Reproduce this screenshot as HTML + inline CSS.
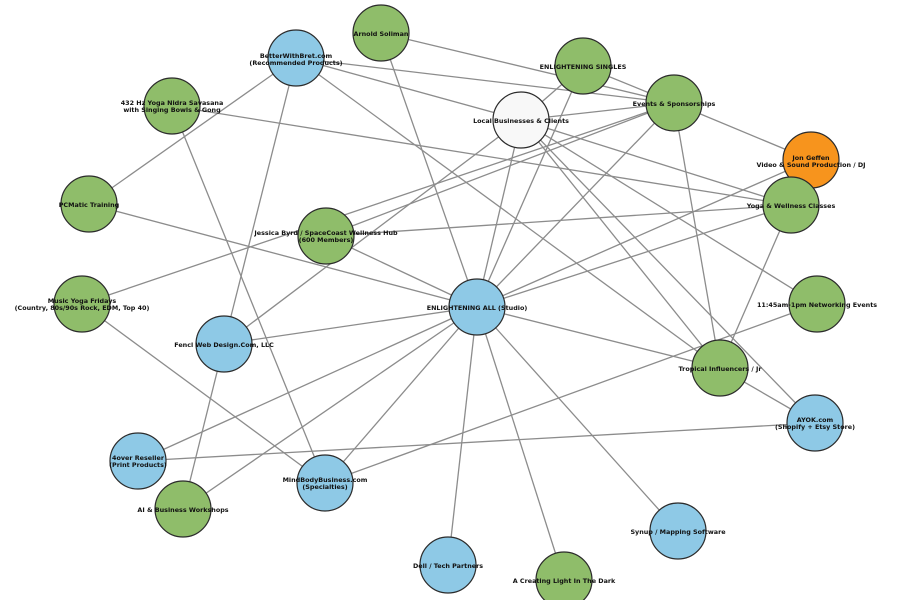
<!DOCTYPE html>
<html><head><meta charset="utf-8"><style>body{margin:0;background:#fff}svg{display:block}text{font-family:"DejaVu Sans","Liberation Sans",sans-serif;font-size:6.4px;font-weight:bold;fill:#111;text-anchor:middle}</style></head><body>
<svg width="900" height="600" viewBox="0 0 900 600">
<g stroke="#8c8c8c" stroke-width="1.3">
<line x1="477" y1="307" x2="381" y2="33"/>
<line x1="477" y1="307" x2="521" y2="120"/>
<line x1="477" y1="307" x2="583" y2="66"/>
<line x1="477" y1="307" x2="674" y2="103"/>
<line x1="477" y1="307" x2="811" y2="160"/>
<line x1="477" y1="307" x2="791" y2="205"/>
<line x1="477" y1="307" x2="720" y2="368"/>
<line x1="477" y1="307" x2="678" y2="531"/>
<line x1="477" y1="307" x2="564" y2="580"/>
<line x1="477" y1="307" x2="448" y2="565"/>
<line x1="477" y1="307" x2="325" y2="483"/>
<line x1="477" y1="307" x2="183" y2="509"/>
<line x1="477" y1="307" x2="138" y2="461"/>
<line x1="477" y1="307" x2="224" y2="344"/>
<line x1="477" y1="307" x2="326" y2="236"/>
<line x1="477" y1="307" x2="89" y2="204"/>
<line x1="521" y1="120" x2="296" y2="58"/>
<line x1="521" y1="120" x2="583" y2="66"/>
<line x1="521" y1="120" x2="674" y2="103"/>
<line x1="521" y1="120" x2="224" y2="344"/>
<line x1="521" y1="120" x2="791" y2="205"/>
<line x1="521" y1="120" x2="817" y2="304"/>
<line x1="521" y1="120" x2="720" y2="368"/>
<line x1="521" y1="120" x2="815" y2="423"/>
<line x1="674" y1="103" x2="381" y2="33"/>
<line x1="674" y1="103" x2="296" y2="58"/>
<line x1="674" y1="103" x2="583" y2="66"/>
<line x1="674" y1="103" x2="326" y2="236"/>
<line x1="674" y1="103" x2="82" y2="304"/>
<line x1="674" y1="103" x2="720" y2="368"/>
<line x1="674" y1="103" x2="811" y2="160"/>
<line x1="791" y1="205" x2="326" y2="236"/>
<line x1="791" y1="205" x2="720" y2="368"/>
<line x1="791" y1="205" x2="172" y2="106"/>
<line x1="817" y1="304" x2="325" y2="483"/>
<line x1="815" y1="423" x2="720" y2="368"/>
<line x1="815" y1="423" x2="138" y2="461"/>
<line x1="296" y1="58" x2="720" y2="368"/>
<line x1="296" y1="58" x2="89" y2="204"/>
<line x1="296" y1="58" x2="224" y2="344"/>
<line x1="172" y1="106" x2="325" y2="483"/>
<line x1="82" y1="304" x2="325" y2="483"/>
<line x1="224" y1="344" x2="183" y2="509"/>
</g>
<g stroke="#2b2b2b" stroke-width="1.2">
<circle cx="381" cy="33" r="28" fill="#8fbd6a"/>
<circle cx="296" cy="58" r="28" fill="#8ec9e6"/>
<circle cx="583" cy="66" r="28" fill="#8fbd6a"/>
<circle cx="674" cy="103" r="28" fill="#8fbd6a"/>
<circle cx="172" cy="106" r="28" fill="#8fbd6a"/>
<circle cx="521" cy="120" r="28" fill="#f8f8f8"/>
<circle cx="811" cy="160" r="28" fill="#f7941d"/>
<circle cx="89" cy="204" r="28" fill="#8fbd6a"/>
<circle cx="791" cy="205" r="28" fill="#8fbd6a"/>
<circle cx="326" cy="236" r="28" fill="#8fbd6a"/>
<circle cx="82" cy="304" r="28" fill="#8fbd6a"/>
<circle cx="477" cy="307" r="28" fill="#8ec9e6"/>
<circle cx="817" cy="304" r="28" fill="#8fbd6a"/>
<circle cx="224" cy="344" r="28" fill="#8ec9e6"/>
<circle cx="720" cy="368" r="28" fill="#8fbd6a"/>
<circle cx="815" cy="423" r="28" fill="#8ec9e6"/>
<circle cx="138" cy="461" r="28" fill="#8ec9e6"/>
<circle cx="325" cy="483" r="28" fill="#8ec9e6"/>
<circle cx="183" cy="509" r="28" fill="#8fbd6a"/>
<circle cx="678" cy="531" r="28" fill="#8ec9e6"/>
<circle cx="448" cy="565" r="28" fill="#8ec9e6"/>
<circle cx="564" cy="580" r="28" fill="#8fbd6a"/>
</g>
<text x="381" y="36">Arnold Soliman</text>
<text x="296" y="58">BetterWithBret.com</text><text x="296" y="65">(Recommended Products)</text>
<text x="583" y="69">ENLIGHTENING SINGLES</text>
<text x="674" y="106">Events &amp; Sponsorships</text>
<text x="172" y="105">432 Hz Yoga Nidra Savasana</text><text x="172" y="112">with Singing Bowls &amp; Gong</text>
<text x="521" y="123">Local Businesses &amp; Clients</text>
<text x="811" y="160">Jon Geffen</text><text x="811" y="167">Video &amp; Sound Production / DJ</text>
<text x="89" y="207">PCMatic Training</text>
<text x="791" y="208">Yoga &amp; Wellness Classes</text>
<text x="326" y="235">Jessica Byrd / SpaceCoast Wellness Hub</text><text x="326" y="242">(600 Members)</text>
<text x="82" y="303">Music Yoga Fridays</text><text x="82" y="310">(Country, 80s/90s Rock, EDM, Top 40)</text>
<text x="477" y="310">ENLIGHTENING ALL (Studio)</text>
<text x="817" y="307">11:45am-1pm Networking Events</text>
<text x="224" y="347">Fencl Web Design.Com, LLC</text>
<text x="720" y="371">Tropical Influencers / Jr</text>
<text x="815" y="422">AYOK.com</text><text x="815" y="429">(Shopify + Etsy Store)</text>
<text x="138" y="460">4over Reseller</text><text x="138" y="467">(Print Products)</text>
<text x="325" y="482">MindBodyBusiness.com</text><text x="325" y="489">(Specialties)</text>
<text x="183" y="512">AI &amp; Business Workshops</text>
<text x="678" y="534">Synup / Mapping Software</text>
<text x="448" y="568">Dell / Tech Partners</text>
<text x="564" y="583">A Creating Light In The Dark</text>
</svg>
</body></html>
